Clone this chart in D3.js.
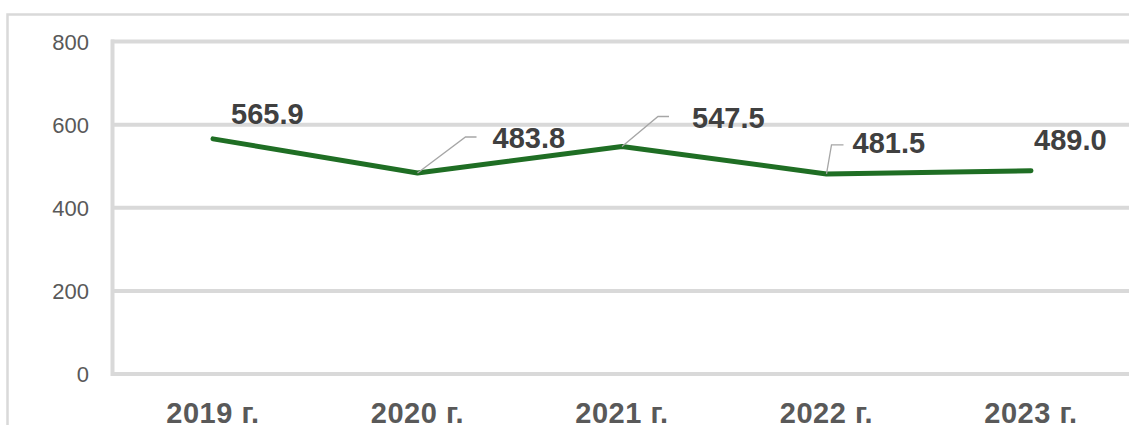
<!DOCTYPE html>
<html><head><meta charset="utf-8">
<script src="https://cdn.jsdelivr.net/npm/d3@7/dist/d3.min.js"></script>
<style>html,body{margin:0;padding:0;background:#fff;overflow:hidden}svg{display:block;font-family:"Liberation Sans",Arial,sans-serif}</style>
</head><body>
<svg id="c" width="1129" height="425"></svg>
<script>
const categories = ["2019 г.", "2020 г.", "2021 г.", "2022 г.", "2023 г."];
const values = [565.9, 483.8, 547.5, 481.5, 489.0];
const yTicks = [0, 200, 400, 600, 800];
const labelTexts = ["565.9", "483.8", "547.5", "481.5", "489.0"];

// label placement (offsets from the point, px) and leader lines
const labelOffsets = [[18,-15],[75,-25],[70,-19],[26,-21],[3,-21]];
const leaders = [null, [[0,0],[48,-36],[59,-36]], [[0,0],[36,-30],[47,-30]], [[0,0],[5,-29],[17,-29]], null];

const svg = d3.select("#c");
const x = d3.scalePoint().domain(categories).range([213, 1031]);
const y = d3.scaleLinear().domain([0, 800]).range([374, 41.6]);

// outer frame
svg.append("rect").attr("x", 7.5).attr("y", 14.5).attr("width", 1140).attr("height", 430)
  .attr("fill", "none").attr("stroke", "#d9d9d9").attr("stroke-width", 2.5);

// gridlines
svg.append("g").selectAll("line").data(yTicks).join("line")
  .attr("x1", 111).attr("x2", 1140)
  .attr("y1", d => y(d)).attr("y2", d => y(d))
  .attr("stroke", "#d9d9d9").attr("stroke-width", 4);
// vertical axis line
svg.append("line").attr("x1", 112.5).attr("x2", 112.5).attr("y1", y(800) - 2).attr("y2", y(0) + 2)
  .attr("stroke", "#d9d9d9").attr("stroke-width", 4);

// y tick labels
svg.append("g").selectAll("text").data(yTicks).join("text")
  .attr("x", 89).attr("y", d => y(d) + 8)
  .attr("text-anchor", "end").attr("font-size", 22).attr("fill", "#595959")
  .text(d => d);

// x labels
svg.append("g").selectAll("text").data(categories).join("text")
  .attr("x", d => x(d)).attr("y", 423)
  .attr("text-anchor", "middle").attr("font-size", 29).attr("font-weight", "bold").attr("fill", "#595959")
  .attr("letter-spacing", 0.5)
  .text(d => d);

// line
const line = d3.line().x((d, i) => x(categories[i])).y(d => y(d));
svg.append("path").datum(values).attr("d", line)
  .attr("fill", "none").attr("stroke", "#1f6e24").attr("stroke-width", 5)
  .attr("stroke-linecap", "round").attr("stroke-linejoin", "round");

// leader lines
values.forEach((v, i) => {
  if (!leaders[i]) return;
  const px = x(categories[i]), py = y(v);
  svg.append("polyline")
    .attr("points", leaders[i].map(p => (px + p[0]) + "," + (py + p[1])).join(" "))
    .attr("fill", "none").attr("stroke", "#a6a6a6").attr("stroke-width", 1.3);
});

// data labels
svg.append("g").selectAll("text").data(values).join("text")
  .attr("x", (d, i) => x(categories[i]) + labelOffsets[i][0])
  .attr("y", (d, i) => y(d) + labelOffsets[i][1])
  .attr("font-size", 29).attr("font-weight", "bold").attr("fill", "#404040")
  .text((d, i) => labelTexts[i]);
</script>
</body></html>
